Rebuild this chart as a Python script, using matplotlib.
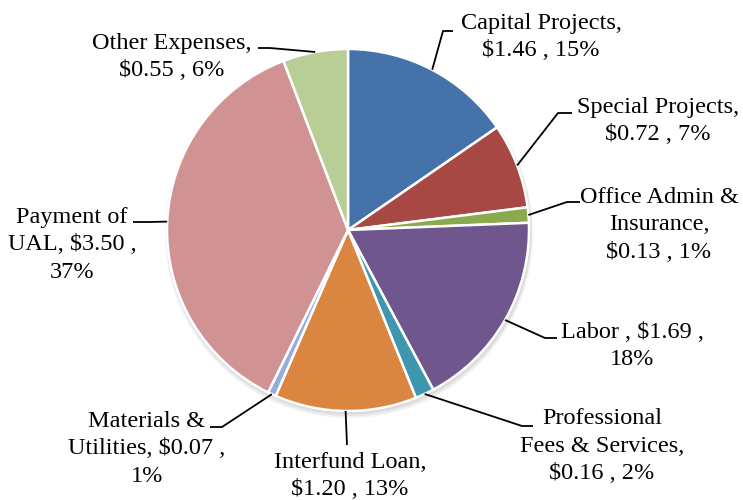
import matplotlib

matplotlib.use("Agg")

import numpy as np
from matplotlib import pyplot as plt
from matplotlib.patches import Circle

# Slices, clockwise from 12 o'clock
categories = [
    "Capital Projects,",
    "Special Projects,",
    "Office Admin &\nInsurance,",
    "Labor ,",
    "Professional\nFees & Services,",
    "Interfund Loan,",
    "Materials &\nUtilities,",
    "Payment of\nUAL,",
    "Other Expenses,",
]
amounts = [1.46, 0.72, 0.13, 1.69, 0.16, 1.20, 0.07, 3.50, 0.55]
percents = [15, 7, 1, 18, 2, 13, 1, 37, 6]
label_texts = [
    "Capital Projects,\n$1.46 , 15%",
    "Special Projects,\n$0.72 , 7%",
    "Office Admin &\nInsurance,\n$0.13 , 1%",
    "Labor , $1.69 ,\n18%",
    "Professional\nFees & Services,\n$0.16 , 2%",
    "Interfund Loan,\n$1.20 , 13%",
    "Materials &\nUtilities, $0.07 ,\n1%",
    "Payment of\nUAL, $3.50 ,\n37%",
    "Other Expenses,\n$0.55 , 6%",
]
colors = [
    "#4572A8", "#A84845", "#8BAA4E", "#6F568D", "#3E97AE",
    "#DA8540", "#95ADD8", "#D09293", "#B9CE97",
]

# layout, in image pixels (y measured from the top)
W, H = 743, 500
CX, CY, R = 348, 230, 181
# label centre, elbow, end of the short horizontal tick
label_pos = [(541, 37), (658, 121), (659, 225), (632, 346), (602, 446),
             (350, 476), (147, 449), (72, 245), (172, 57)]
elbows = [(443, 31), (558, 113), (567, 202), (545, 338), (522, 426),
          (347, 445), (222, 427), (150, 222), (270, 48)]
ticks = [(453, 31), (572, 113), (580, 202), (557, 338), (533, 426),
         (347, 445), (210, 427), (133, 222), (258, 48)]

plt.rcParams["font.family"] = ["Liberation Serif", "DejaVu Serif"]

fig = plt.figure(figsize=(W / 100, H / 100), dpi=100)
ax = fig.add_axes([0, 0, 1, 1])


def fy(y):
    return H - y


# soft shadow under the pie
for k in range(3):
    ax.add_patch(Circle((CX + 1, fy(CY) - 2 - k), R + 1 + k, color="black",
                        alpha=0.05, lw=0, zorder=0))

wedges, _ = ax.pie(
    amounts,
    colors=colors,
    startangle=90,
    counterclock=False,
    center=(CX, fy(CY)),
    radius=R,
    frame=True,
    wedgeprops=dict(edgecolor="white", linewidth=1.8),
)
ax.set_xlim(0, W)
ax.set_ylim(0, H)
ax.set_aspect("equal")
ax.axis("off")

total = sum(amounts)
cum = np.cumsum([0] + amounts)
for i, w in enumerate(wedges):
    mid = np.deg2rad(90 - 360 * (cum[i] + amounts[i] / 2) / total)
    sx, sy = CX + R * np.cos(mid), fy(CY) + R * np.sin(mid)
    ex, ey = elbows[i]
    tx, ty = ticks[i]
    ax.plot([sx, ex, tx], [sy, fy(ey), fy(ty)], color="black", lw=1.3,
            solid_capstyle="butt", zorder=5)
    lx, ly = label_pos[i]
    ax.text(lx, fy(ly), label_texts[i], ha="center", va="center",
            fontsize=17.5, color="black", linespacing=1.38, zorder=6)

fig.savefig("out.png", dpi=100, facecolor="white")
